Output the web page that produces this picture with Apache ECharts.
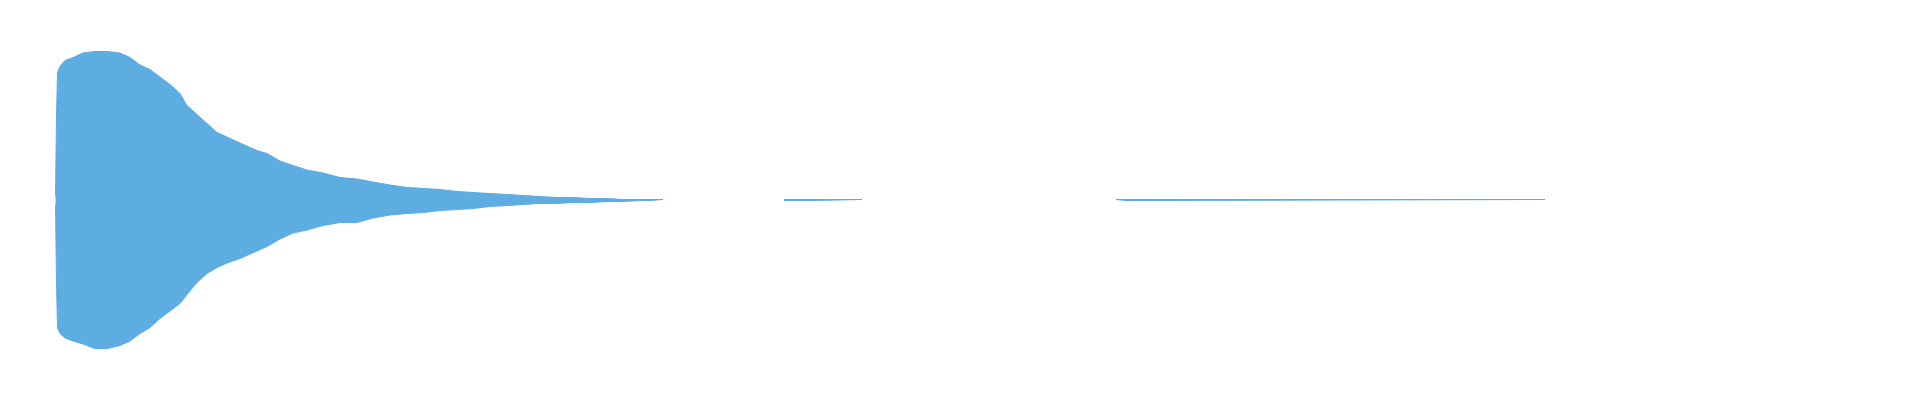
<!DOCTYPE html>
<html>
<head>
<meta charset="utf-8">
<script src="https://cdn.jsdelivr.net/npm/echarts@6/dist/echarts.min.js"></script>
<style>html,body{margin:0;padding:0;background:#fff;}#c{width:1920px;height:400px;}</style>
</head>
<body>
<div id="c"></div>
<script>
// Waveform envelope: time in seconds, amplitude normalised to [-1, 1]
var seg1Time = [0.005, 0.015, 0.025, 0.05, 0.10, 0.18, 0.28, 0.40, 0.52, 0.65, 0.75, 0.85, 0.95, 1.05, 1.15, 1.25, 1.32, 1.42, 1.52, 1.62, 1.72, 1.85, 2.02, 2.12, 2.25, 2.38, 2.52, 2.68, 2.85, 3.02, 3.18, 3.35, 3.52, 3.68, 3.85, 4.02, 4.18, 4.35, 4.52, 4.68, 4.85, 5.02, 5.18, 5.35, 5.52, 5.68, 5.85, 5.96, 5.97, 6.08];
var seg1Max = [0.03, 0.56, 0.85, 0.89, 0.93, 0.95, 0.98, 0.99, 0.99, 0.98, 0.95, 0.90, 0.87, 0.82, 0.77, 0.71, 0.63, 0.57, 0.51, 0.45, 0.42, 0.38, 0.33, 0.31, 0.26, 0.23, 0.20, 0.18, 0.15, 0.14, 0.12, 0.10, 0.084, 0.077, 0.07, 0.057, 0.05, 0.043, 0.037, 0.03, 0.023, 0.017, 0.017, 0.01, 0.01, 0.0033, 0.0033, 0.0033, 0.0033, 0.0033];
var seg1Min = [-0.035, -0.56, -0.85, -0.89, -0.92, -0.94, -0.96, -0.99, -0.99, -0.97, -0.94, -0.89, -0.85, -0.79, -0.74, -0.69, -0.63, -0.55, -0.49, -0.45, -0.42, -0.39, -0.34, -0.31, -0.26, -0.22, -0.20, -0.17, -0.15, -0.15, -0.12, -0.10, -0.09, -0.084, -0.07, -0.064, -0.057, -0.043, -0.037, -0.03, -0.023, -0.023, -0.017, -0.017, -0.01, -0.01, -0.0033, -0.0033, 0.0033, 0.0033];

var seg2Time = [7.29, 7.58, 7.59, 8.07];
var seg2Max = [0.0033, 0.0033, 0.0033, 0.0033];
var seg2Min = [-0.0033, -0.0033, 0.0033, 0.0033];

var seg3Time = [10.61, 10.71, 10.98, 10.99, 14.90];
var seg3Max = [0.0033, 0.0033, 0.0033, 0.0033, 0.0033];
var seg3Min = [0.0033, -0.0033, -0.0033, 0.0033, 0.0033];

var waveColor = '#5DADE2';

function build(times, vals) {
  var out = [];
  for (var s = 0; s < times.length; s++) {
    if (s > 0) out.push([times[s][0] - 0.001, null]);
    for (var i = 0; i < times[s].length; i++) out.push([times[s][i], vals[s][i]]);
  }
  return out;
}
var times = [seg1Time, seg2Time, seg3Time];
var maxData = build(times, [seg1Max, seg2Max, seg3Max]);
var minData = build(times, [seg1Min, seg2Min, seg3Min]);

var chart = echarts.init(document.getElementById('c'));
function waveSeries(name, data) {
  return {
    name: name, type: 'line', data: data,
    showSymbol: false, symbol: 'none', connectNulls: false,
    lineStyle: {width: 1, color: waveColor},
    areaStyle: {color: waveColor, opacity: 1},
    silent: true
  };
}
chart.setOption({
  animation: false,
  backgroundColor: '#ffffff',
  grid: {left: 55, right: 375, top: 50, bottom: 50},
  xAxis: {type: 'value', min: 0, max: 14.90, show: false},
  yAxis: {type: 'value', min: -1, max: 1, show: false},
  series: [waveSeries('max', maxData), waveSeries('min', minData)]
});
</script>
</body>
</html>
